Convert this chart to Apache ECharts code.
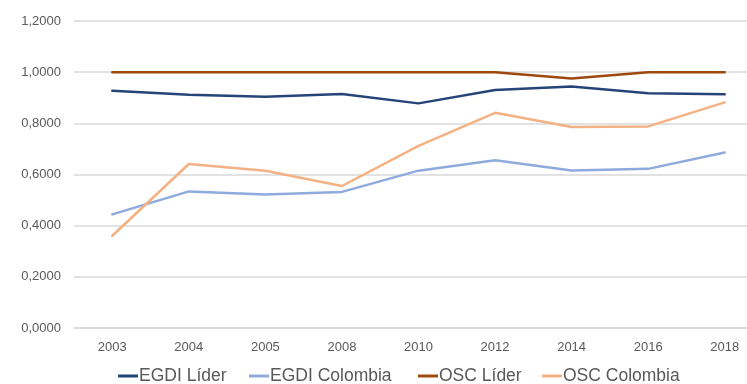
<!DOCTYPE html>
<html>
<head>
<meta charset="utf-8">
<script src="https://cdn.jsdelivr.net/npm/echarts@6/dist/echarts.min.js"></script>
<style>
html,body{margin:0;padding:0;background:#fff;}
#c{width:747px;height:384px;}
</style>
</head>
<body>
<div id="c"></div>
<script>
const categories = ['2003','2004','2005','2008','2010','2012','2014','2016','2018'];
const egdiLider = [0.927, 0.912, 0.904, 0.915, 0.878, 0.930, 0.944, 0.918, 0.914];
const egdiColombia = [0.444, 0.534, 0.522, 0.532, 0.615, 0.656, 0.616, 0.622, 0.686];
const oscLider = [1.0, 1.0, 1.0, 1.0, 1.0, 1.0, 0.975, 1.0, 1.0];
const oscColombia = [0.3605, 0.641, 0.615, 0.555, 0.712, 0.841, 0.786, 0.788, 0.882];
const seriesNames = ['EGDI Líder', 'EGDI Colombia', 'OSC Líder', 'OSC Colombia'];
const colors = ['#264478', '#8faadc', '#9e480e', '#f4b183'];
const legendLefts = [113, 244, 413, 537];

const chart = echarts.init(document.getElementById('c'));
const font = '"Liberation Sans", Arial, sans-serif';
function mk(name, data, color) {
  return {
    name: name, type: 'line', data: data, symbol: 'none', smooth: false,
    lineStyle: { color: color, width: 2.5, cap: 'round', join: 'round' },
    itemStyle: { color: color }
  };
}
chart.setOption({
  animation: false,
  backgroundColor: '#fff',
  grid: { left: 74, width: 689, top: 21, bottom: 56, containLabel: false, outerBoundsMode: 'none' },
  legend: seriesNames.map((n, i) => ({
    left: legendLefts[i], top: 362, itemWidth: 20, itemHeight: 3,
    icon: 'rect',
    textStyle: { fontFamily: font, fontSize: 17.5, color: '#595959', padding: [0,0,0,-4] },
    data: [n]
  })),
  xAxis: {
    type: 'category', data: categories, boundaryGap: true,
    axisLine: { show: true, lineStyle: { color: '#d9d9d9', width: 1.5 } },
    axisTick: { show: false },
    axisLabel: { fontFamily: font, fontSize: 13, color: '#595959', margin: 13 }
  },
  yAxis: {
    type: 'value', min: 0, max: 1.2, interval: 0.2,
    axisLine: { show: false }, axisTick: { show: false },
    splitLine: { lineStyle: { color: '#d9d9d9', width: 1.5 } },
    axisLabel: {
      fontFamily: font, fontSize: 13, color: '#595959', margin: 13,
      formatter: v => v.toFixed(4).replace('.', ',')
    }
  },
  series: [
    mk(seriesNames[0], egdiLider, colors[0]),
    mk(seriesNames[1], egdiColombia, colors[1]),
    mk(seriesNames[2], oscLider, colors[2]),
    mk(seriesNames[3], oscColombia, colors[3])
  ]
});
</script>
</body>
</html>
